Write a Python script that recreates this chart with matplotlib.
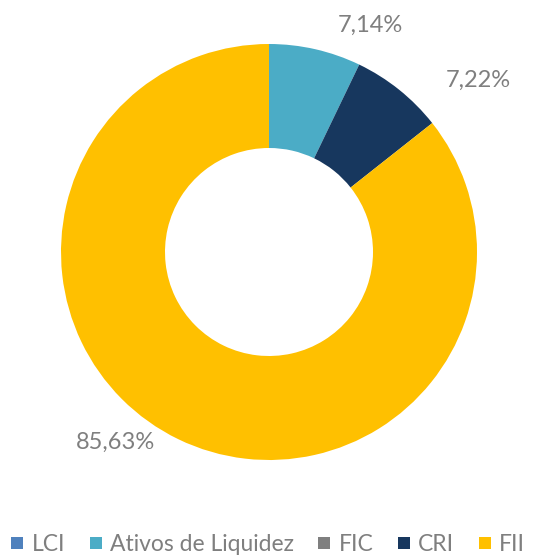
import matplotlib.pyplot as plt
from matplotlib.lines import Line2D

categories = ["LCI", "Ativos de Liquidez", "FIC", "CRI", "FII"]
values = [0.0, 7.14, 0.0, 7.22, 85.63]
labels = ["", "7,14%", "", "7,22%", "85,63%"]
colors = ["#4F81BD", "#4BACC6", "#7F7F7F", "#17375E", "#FFC000"]

plt.rcParams['font.family'] = ['Lato', 'DejaVu Sans']
text_color = "#7F7F7F"

W, H = 536, 556
fig = plt.figure(figsize=(W / 100, H / 100), dpi=100)
ax = fig.add_axes([0, 0, 1, 1])

ax.pie(values, colors=colors, startangle=90, counterclock=False, radius=1.0,
       wedgeprops=dict(width=0.5, linewidth=0))

# donut centre / radius in pixels
cx, cy, r = 269, H - 252, 208
ax.set_xlim(-cx / r, (W - cx) / r)
ax.set_ylim(-cy / r, (H - cy) / r)
ax.set_aspect('auto')
ax.axis('off')

# label positions (radius units) as laid out in the reference
label_pos = {1: (0.486, 1.091), 3: (1.005, 0.827), 4: (-0.736, -0.913)}
for i, (x, y) in label_pos.items():
    ax.text(x, y, labels[i], ha='center', va='center', fontsize=17, color=text_color)

handles = [Line2D([], [], linestyle='none', marker='s', markersize=8.6,
                  markerfacecolor=c, markeredgewidth=0) for c in colors]
leg = fig.legend(handles, categories, loc='lower center', bbox_to_anchor=(0.5, 0.002),
                 ncol=5, frameon=False, fontsize=16.5, labelcolor=text_color,
                 handlelength=0.55, handletextpad=0.35,
                 columnspacing=1.05, borderpad=0, borderaxespad=0)

fig.savefig("out.png", dpi=100)
